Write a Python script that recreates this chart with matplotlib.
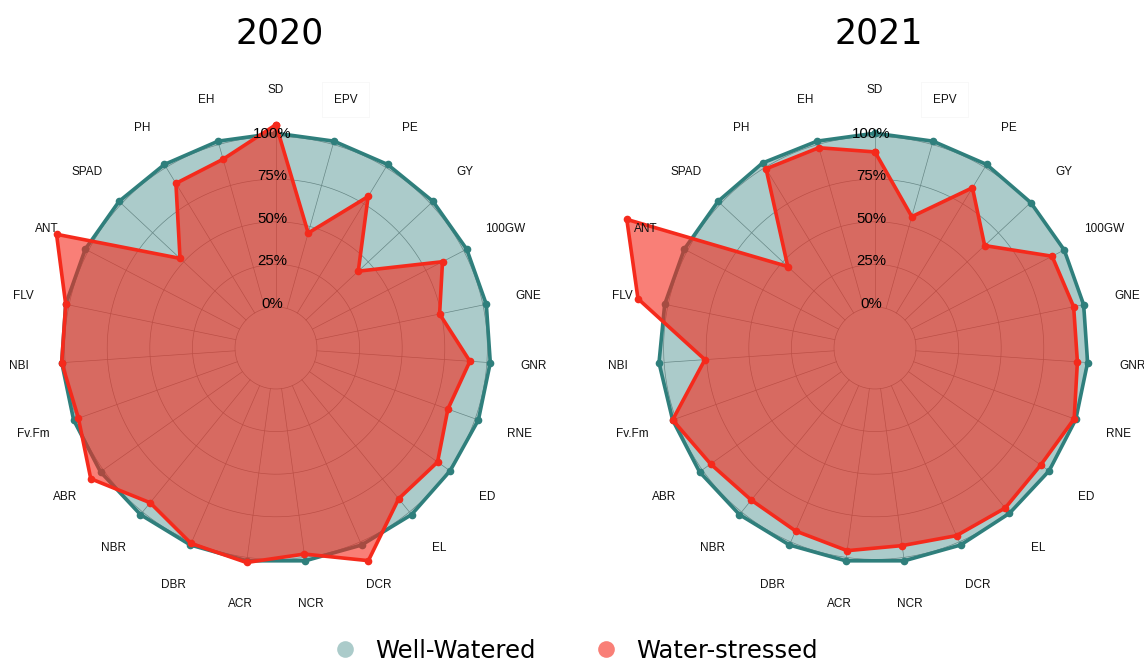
import numpy as np
import matplotlib as mpl
mpl.use('Agg')
import matplotlib.pyplot as plt
from matplotlib.lines import Line2D
from matplotlib.transforms import offset_copy

# variaveis no sentido horario a partir do topo
variaveis = ["SD", "EPV", "PE", "GY", "100GW", "GNE", "GNR", "RNE", "ED", "EL",
             "DCR", "NCR", "ACR", "DBR", "NBR", "ABR", "Fv.Fm", "NBI", "FLV",
             "ANT", "SPAD", "PH", "EH"]

# valores relativos (1.0 = 100%)
ww_2020 = [1.02, 1.02, 1.02, 1.02, 1.02, 1.02, 1.02, 1.02, 1.01, 1.02, 1.02, 1.02,
           1.02, 1.02, 1.02, 1.02, 1.02, 1.02, 1.02, 1.02, 1.02, 1.02, 1.02]
ws_2020 = [1.07, 0.46, 0.80, 0.42, 0.86, 0.74, 0.90, 0.83, 0.92, 0.90, 1.12, 0.98,
           1.03, 1.01, 0.93, 1.09, 0.99, 1.02, 1.02, 1.21, 0.53, 0.89, 0.91]
ww_2021 = [1.02, 1.02, 1.02, 1.01, 1.01, 1.01, 1.01, 1.01, 1.01, 1.01, 1.02, 1.02,
           1.02, 1.02, 1.02, 1.02, 1.02, 1.03, 1.02, 1.02, 1.02, 1.03, 1.02]
ws_2021 = [0.91, 0.56, 0.86, 0.64, 0.93, 0.95, 0.95, 1.00, 0.95, 0.97, 0.96, 0.93,
           0.96, 0.93, 0.91, 0.94, 1.02, 0.76, 1.18, 1.40, 0.46, 0.99, 0.98]

anos = ["2020", "2021"]
niveis = [0, 0.25, 0.5, 0.75, 1.0]
rotulos_niveis = ["0%", "25%", "50%", "75%", "100%"]

cor_ww = "#2f7f7c"
cor_ws = "#f52a1c"

W, H = 1144, 662
fig = plt.figure(figsize=(W / 100, H / 100), dpi=100)

rmin, rmax = -0.2406, 1.45
R = 170.4 * (rmax - rmin)
centros = [(276, 348), (875, 348)]

def desenhaRadar(cx, cy, ww, ws, titulo):
    ax = fig.add_axes([(cx - R) / W, (H - cy - R) / H, 2 * R / W, 2 * R / H],
                      projection='polar')
    ax.set_theta_zero_location('N')
    ax.set_theta_direction(-1)
    ax.set_ylim(rmin, rmax)
    ax.axis('off')

    ang = np.linspace(0, 2 * np.pi, len(variaveis), endpoint=False)
    ang_f = np.append(ang, ang[0])

    # grade
    t = np.linspace(0, 2 * np.pi, 300)
    for n in niveis:
        ax.plot(t, np.full_like(t, n), color='#8c8c8c', lw=0.5, zorder=1)
    for a in ang:
        ax.plot([a, a], [0, 1.0], color='#8c8c8c', lw=0.5, zorder=1)

    ww_f = np.append(ww, ww[0])
    ws_f = np.append(ws, ws[0])
    ax.fill(ang_f, ww_f, color=cor_ww, alpha=0.4, lw=0, zorder=2)
    ax.plot(ang_f, ww_f, color=cor_ww, lw=2.6, marker='o', ms=4.5, zorder=3)
    ax.fill(ang_f, ws_f, color=cor_ws, alpha=0.6, lw=0, zorder=4)
    ax.plot(ang_f, ws_f, color=cor_ws, lw=2.6, marker='o', ms=4.5, zorder=5)

    tr = offset_copy(ax.transData, fig=fig, x=-4, y=3, units='dots')
    for n, rot in zip(niveis, rotulos_niveis):
        ax.text(0, n, rot, transform=tr, ha='center', va='center', fontsize=10.8,
                family='Liberation Sans', color='black', zorder=6)

    for a, nome in zip(ang, variaveis):
        kw = {}
        if nome == "EPV":
            kw['bbox'] = dict(boxstyle='square,pad=1.0', fc='none', ec='#f7f7f7', lw=0.6)
        ax.text(a, 1.273, nome, ha='center', va='center', fontsize=8.5,
                family='Liberation Sans', color='#111111', zorder=7, **kw)

    fig.text((cx + 4) / W, 1 - 33 / H, titulo, ha='center', va='center',
             fontsize=25, family='DejaVu Sans')


desenhaRadar(centros[0][0], centros[0][1], ww_2020, ws_2020, anos[0])
desenhaRadar(centros[1][0], centros[1][1], ww_2021, ws_2021, anos[1])

handles = [Line2D([], [], ls='', marker='o', ms=12, mfc=cor_ww, mec='none', alpha=0.4),
           Line2D([], [], ls='', marker='o', ms=12, mfc=cor_ws, mec='none', alpha=0.6)]
fig.legend(handles, ["Well-Watered", "Water-stressed"], loc='center',
           bbox_to_anchor=(575 / W, 1 - 651 / H), ncol=2, frameon=False,
           prop={'family': 'DejaVu Sans', 'size': 17.5}, handlelength=1.0,
           handletextpad=0.74, columnspacing=2.4, borderpad=0.2)

fig.savefig('out.png', dpi=100)
